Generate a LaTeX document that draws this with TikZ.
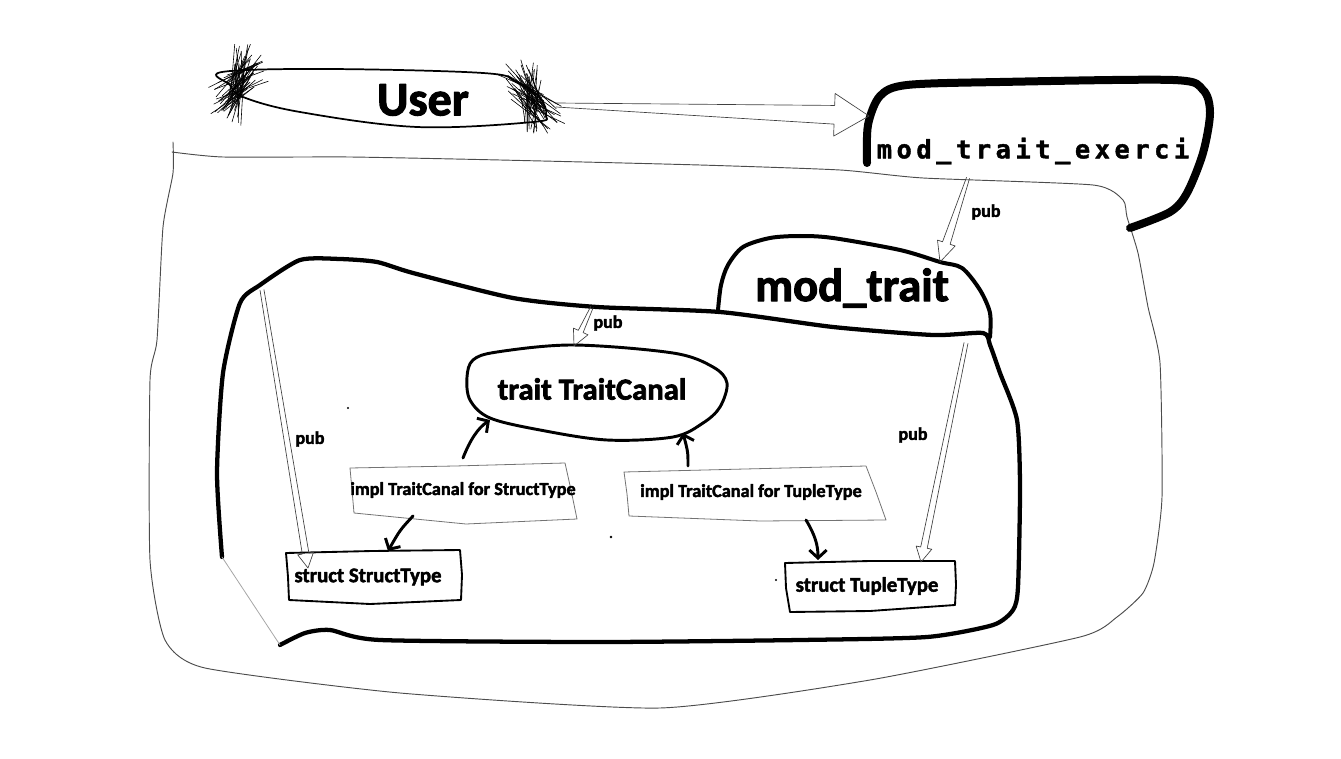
\documentclass[tikz,border=0pt]{standalone}
\usepackage{fontspec}
\setmainfont{Carlito}[BoldFeatures={FakeBold=2.2}]
\newfontfamily\spacedmono[LetterSpace=18,BoldFeatures={FakeBold=1.6}]{DejaVu Sans Mono}
\usetikzlibrary{arrows.meta,calc}

\newcommand{\fsz}[1]{\fontsize{#1}{#1}\selectfont\bfseries}
% #1 from, #2 to, #3 tail half width, #4 shaft half width, #5 head half width, #6 head length
\newcommand{\pubarrow}[6]{%
  \coordinate (ha) at ($(#2)!#6!(#1)$);
  \draw[hollow] ($(#1)!#3!90:(#2)$) -- ($(ha)!#4!90:(#2)$) -- ($(ha)!#5!90:(#2)$) -- (#2)
    -- ($(ha)!#5!-90:(#2)$) -- ($(ha)!#4!-90:(#2)$) -- ($(#1)!#3!-90:(#2)$);
}

\begin{document}
\begin{tikzpicture}[x=0.75pt,y=-0.75pt,
    line join=round, line cap=round,
    bigedge/.style={line width=6pt},
    tabedge/.style={line width=3pt},
    boxedge/.style={line width=3.2pt},
    blobedge/.style={line width=2.2pt},
    structedge/.style={line width=1.4pt},
    impledge/.style={line width=0.6pt, black!55},
    thinedge/.style={line width=0.7pt, black!70},
    hollow/.style={line width=0.5pt, black!75},
    flow/.style={line width=2.2pt, -{Straight Barb[length=6pt,width=13pt]}},
    hair/.style={line width=0.45pt},
    lbl/.style={inner sep=0pt}]
\useasboundingbox (0,0) rectangle (1341,759);

% outer module
\draw[thinedge] plot[smooth, tension=0.35] coordinates {(173,142) (173,173) (163,227) (157,340) (150,380) (150,560) (165,640) (205,668) (400,693) (660,708) (870,680) (1080,637) (1117,617) (1143,593) (1154,563) (1162,497) (1160,363) (1148,307) (1138,253) (1127,217) (1123,200) (1093,185) (923,178) (840,170) (700,165) (500,160) (350,157) (223,157) (172,152)};

% inner module
\draw[boxedge] plot[smooth, tension=0.4] coordinates {(222,557) (217,473) (223,373) (240,303) (260,285) (300,260) (340,259) (377,262) (413,273) (513,298) (597,307) (720,312) (833,327) (933,335) (983,333) (990,345) (1000,373) (1017,420) (1020,487) (1018,587) (1013,610) (993,625) (927,637) (800,640) (600,642) (380,640) (330,630) (305,633) (280,645)};
\draw[line width=0.6pt, black!35] (222,557) -- (280,645);

% mod_trait tab
\draw[tabedge] plot[smooth, tension=0.5] coordinates {(718,310) (721,285) (728,265) (743,247) (770,238) (800,236) (833,238) (900,250) (940,262) (962,268) (980,290) (990,313) (990,337)};

% mod_trait_exerci
\draw[bigedge] plot[smooth, tension=0.5] coordinates {(867,163) (868,125) (880,96) (907,85) (1000,82) (1173,80) (1203,90) (1210,113) (1203,153) (1187,193) (1170,212) (1130,228)};

% User
\draw[line width=1.3pt] plot[smooth cycle, tension=0.6] coordinates {(222,72) (327,69) (483,73) (517,82) (540,98) (546,115) (533,122) (417,127) (300,112) (243,97) (230,85)};
\coordinate (tuftL) at (238,84);
\coordinate (tuftR) at (530,97);
\pgfmathsetseed{17}
\foreach \k in {1,...,55}{
  \pgfmathsetmacro\a{-58+rand*40}
  \pgfmathsetmacro\l{14+20*rnd}
  \pgfmathsetmacro\m{10+20*rnd}
  \draw[hair] ($(tuftL)+(6*rand,14*rand)$) ++(\a:\l) -- ++(\a+180:\l+\m);
}
\foreach \k in {1,...,55}{
  \pgfmathsetmacro\a{62+rand*40}
  \pgfmathsetmacro\l{14+20*rnd}
  \pgfmathsetmacro\m{10+20*rnd}
  \draw[hair] ($(tuftR)+(8*rand,14*rand)$) ++(\a:\l) -- ++(\a+180:\l+\m);
}

% trait blob
\draw[blobedge] plot[smooth cycle, tension=0.55] coordinates {(497,352) (573,345) (673,353) (713,367) (727,383) (720,407) (703,423) (673,437) (607,440) (540,430) (490,418) (470,400) (467,377) (473,360)};

% impl boxes
\draw[impledge] (350,468) -- (455,466) -- (565,463) -- (571,490) -- (577,519) -- (466,524) -- (354,513) -- (352,490) -- cycle;
\draw[impledge] (624,472) -- (745,469) -- (866,466) -- (876,492) -- (886,520) -- (760,521) -- (629,516) -- (627,494) -- cycle;

% struct boxes
\draw[structedge] (286,553) -- (372,551) -- (460,550) -- (462,575) -- (461,600) -- (370,604) -- (289,600) -- (288,577) -- cycle;
\draw[structedge] (785,563) -- (870,561) -- (955,561) -- (956,585) -- (955,605) -- (870,611) -- (790,612) -- (786,588) -- cycle;

% labels
\node[lbl, font=\fsz{36}] (user) at (423,100) {User};
\node[lbl, font=\spacedmono\fsz{19}] (exerci) at (1033,151) {mod\_trait\_exerci};
\node[lbl, font=\fsz{35}] (modtrait) at (852,288) {mod\_trait};
\node[lbl, font=\fsz{23}] (canal) at (592,389) {trait TraitCanal};
\node[lbl, font=\fsz{13.7}] (implstruct) at (463,490) {impl TraitCanal for StructType};
\node[lbl, font=\fsz{13.7}] (impltuple) at (751,492) {impl TraitCanal for TupleType};
\node[lbl, font=\fsz{15.6}] (structtype) at (368,577) {struct StructType};
\node[lbl, font=\fsz{15.6}] (tupletype) at (867,586) {struct TupleType};
\node[lbl, font=\fsz{13.5}] (pubA) at (986,212) {pub};
\node[lbl, font=\fsz{13.5}] (pubB) at (608,323) {pub};
\node[lbl, font=\fsz{13.5}] (pubC) at (310,439) {pub};
\node[lbl, font=\fsz{13.5}] (pubD) at (913,435) {pub};

% connectors
\coordinate (userR) at (556,105);
\coordinate (exerciL) at (869,116);
\coordinate (exerciB) at (968,178);
\coordinate (tabT) at (940,262);
\coordinate (boxT) at (592,307);
\coordinate (canalT) at (574,346);
\coordinate (boxL) at (262,290);
\coordinate (structT) at (308,568);
\coordinate (boxR) at (966,343);
\coordinate (tupleT) at (921,562);
\pubarrow{userR}{exerciL}{1.5pt}{7pt}{16pt}{26pt}
\pubarrow{exerciB}{tabT}{1.2pt}{3pt}{7pt}{15pt}
\pubarrow{boxT}{canalT}{1pt}{2pt}{6pt}{12pt}
\pubarrow{boxL}{structT}{1.5pt}{2.5pt}{6pt}{11pt}
\pubarrow{boxR}{tupleT}{1.5pt}{2.5pt}{6pt}{11pt}

\coordinate (canalBL) at (490,420);
\coordinate (canalBR) at (683,433);
\coordinate (implsT) at (463,458);
\coordinate (impltT) at (688,466);
\coordinate (implsB) at (413,516);
\coordinate (impltB) at (806,520);
\coordinate (structTT) at (388,551);
\coordinate (tupleTT) at (818,560);
\draw[flow] (implsT) .. controls (470,440) and (478,428) .. (canalBL);
\draw[flow] (impltT) .. controls (688,452) .. (canalBR);
\draw[flow] (implsB) .. controls (400,530) .. (structTT);
\draw[flow] (impltB) .. controls (815,535) and (818,545) .. (tupleTT);

% dots
\fill (348,408) circle (1.2);
\fill (611,537) circle (1.4);
\fill (776,580) circle (1.2);
\end{tikzpicture}
\end{document}
